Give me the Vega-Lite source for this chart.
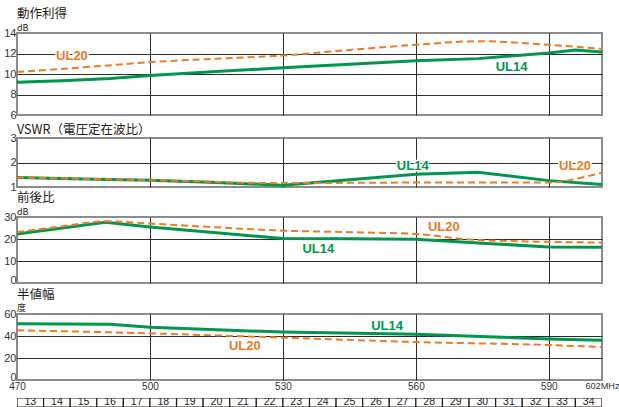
{
  "$schema": "https://vega.github.io/schema/vega-lite/v6.json",
  "padding": {"left": 2, "top": 0, "right": 0, "bottom": 0},
  "autosize": {"type": "pad"},
  "background": "white",
  "bounds": "flush",
  "spacing": 0,
  "datasets": {
    "curves": [
      {"q": "gain", "model": "UL14", "f": 470, "v": 9.2},
      {"q": "gain", "model": "UL14", "f": 480, "v": 9.35},
      {"q": "gain", "model": "UL14", "f": 491, "v": 9.55},
      {"q": "gain", "model": "UL14", "f": 500, "v": 9.85},
      {"q": "gain", "model": "UL14", "f": 515, "v": 10.25},
      {"q": "gain", "model": "UL14", "f": 530, "v": 10.6},
      {"q": "gain", "model": "UL14", "f": 545, "v": 10.95},
      {"q": "gain", "model": "UL14", "f": 560, "v": 11.3},
      {"q": "gain", "model": "UL14", "f": 574, "v": 11.5},
      {"q": "gain", "model": "UL14", "f": 590, "v": 12.05},
      {"q": "gain", "model": "UL14", "f": 596, "v": 12.35},
      {"q": "gain", "model": "UL14", "f": 602, "v": 12.15},
      {"q": "gain", "model": "UL20", "f": 470, "v": 10.2},
      {"q": "gain", "model": "UL20", "f": 485, "v": 10.65},
      {"q": "gain", "model": "UL20", "f": 500, "v": 11.15},
      {"q": "gain", "model": "UL20", "f": 515, "v": 11.5},
      {"q": "gain", "model": "UL20", "f": 530, "v": 11.8},
      {"q": "gain", "model": "UL20", "f": 545, "v": 12.35},
      {"q": "gain", "model": "UL20", "f": 560, "v": 12.85},
      {"q": "gain", "model": "UL20", "f": 574, "v": 13.2},
      {"q": "gain", "model": "UL20", "f": 590, "v": 12.85},
      {"q": "gain", "model": "UL20", "f": 602, "v": 12.45},
      {"q": "vswr", "model": "UL14", "f": 470, "v": 1.39},
      {"q": "vswr", "model": "UL14", "f": 485, "v": 1.33},
      {"q": "vswr", "model": "UL14", "f": 500, "v": 1.28},
      {"q": "vswr", "model": "UL14", "f": 515, "v": 1.18},
      {"q": "vswr", "model": "UL14", "f": 530, "v": 1.07},
      {"q": "vswr", "model": "UL14", "f": 545, "v": 1.3},
      {"q": "vswr", "model": "UL14", "f": 560, "v": 1.52},
      {"q": "vswr", "model": "UL14", "f": 574, "v": 1.6},
      {"q": "vswr", "model": "UL14", "f": 590, "v": 1.26},
      {"q": "vswr", "model": "UL14", "f": 602, "v": 1.1},
      {"q": "vswr", "model": "UL20", "f": 470, "v": 1.39},
      {"q": "vswr", "model": "UL20", "f": 500, "v": 1.28},
      {"q": "vswr", "model": "UL20", "f": 530, "v": 1.16},
      {"q": "vswr", "model": "UL20", "f": 560, "v": 1.18},
      {"q": "vswr", "model": "UL20", "f": 590, "v": 1.18},
      {"q": "vswr", "model": "UL20", "f": 593, "v": 1.22},
      {"q": "vswr", "model": "UL20", "f": 597, "v": 1.37},
      {"q": "vswr", "model": "UL20", "f": 602, "v": 1.58},
      {"q": "fb", "model": "UL14", "f": 470, "v": 22.3},
      {"q": "fb", "model": "UL14", "f": 490, "v": 27.6},
      {"q": "fb", "model": "UL14", "f": 500, "v": 25.5},
      {"q": "fb", "model": "UL14", "f": 515, "v": 22.8},
      {"q": "fb", "model": "UL14", "f": 530, "v": 20.2},
      {"q": "fb", "model": "UL14", "f": 545, "v": 20.1},
      {"q": "fb", "model": "UL14", "f": 560, "v": 19.9},
      {"q": "fb", "model": "UL14", "f": 575, "v": 18.1},
      {"q": "fb", "model": "UL14", "f": 590, "v": 16.4},
      {"q": "fb", "model": "UL14", "f": 602, "v": 16.3},
      {"q": "fb", "model": "UL20", "f": 470, "v": 23.1},
      {"q": "fb", "model": "UL20", "f": 480, "v": 25.7},
      {"q": "fb", "model": "UL20", "f": 490, "v": 28.05},
      {"q": "fb", "model": "UL20", "f": 500, "v": 27.0},
      {"q": "fb", "model": "UL20", "f": 515, "v": 25.3},
      {"q": "fb", "model": "UL20", "f": 530, "v": 23.8},
      {"q": "fb", "model": "UL20", "f": 545, "v": 23.1},
      {"q": "fb", "model": "UL20", "f": 560, "v": 22.3},
      {"q": "fb", "model": "UL20", "f": 572, "v": 19.8},
      {"q": "fb", "model": "UL20", "f": 590, "v": 18.7},
      {"q": "fb", "model": "UL20", "f": 602, "v": 18.4},
      {"q": "bw", "model": "UL14", "f": 470, "v": 51.2},
      {"q": "bw", "model": "UL14", "f": 491, "v": 50.6},
      {"q": "bw", "model": "UL14", "f": 500, "v": 47.9},
      {"q": "bw", "model": "UL14", "f": 515, "v": 45.6},
      {"q": "bw", "model": "UL14", "f": 530, "v": 43.6},
      {"q": "bw", "model": "UL14", "f": 560, "v": 41.5},
      {"q": "bw", "model": "UL14", "f": 590, "v": 37.3},
      {"q": "bw", "model": "UL14", "f": 602, "v": 36.1},
      {"q": "bw", "model": "UL20", "f": 470, "v": 45.2},
      {"q": "bw", "model": "UL20", "f": 500, "v": 42.4},
      {"q": "bw", "model": "UL20", "f": 530, "v": 38.5},
      {"q": "bw", "model": "UL20", "f": 560, "v": 34.5},
      {"q": "bw", "model": "UL20", "f": 590, "v": 31.8},
      {"q": "bw", "model": "UL20", "f": 602, "v": 30.0}
    ],
    "labels": [
      {"q": "gain", "model": "UL20", "f": 482.4, "v": 11.74},
      {"q": "gain", "model": "UL14", "f": 581.6, "v": 10.7},
      {"q": "vswr", "model": "UL14", "f": 559.3, "v": 1.86},
      {"q": "vswr", "model": "UL20", "f": 595.9, "v": 1.86},
      {"q": "fb", "model": "UL14", "f": 538, "v": 15.5},
      {"q": "fb", "model": "UL20", "f": 566.3, "v": 25.3},
      {"q": "bw", "model": "UL20", "f": 521.4, "v": 31.2},
      {"q": "bw", "model": "UL14", "f": 553.5, "v": 49.4}
    ],
    "channels": [
      {"ch": 13}, {"ch": 14}, {"ch": 15}, {"ch": 16}, {"ch": 17}, {"ch": 18},
      {"ch": 19}, {"ch": 20}, {"ch": 21}, {"ch": 22}, {"ch": 23}, {"ch": 24},
      {"ch": 25}, {"ch": 26}, {"ch": 27}, {"ch": 28}, {"ch": 29}, {"ch": 30},
      {"ch": 31}, {"ch": 32}, {"ch": 33}, {"ch": 34}
    ]
  },
  "vconcat": [
    {"width": 585, "height": 33, "view": {"stroke": null}, "data": {"values": [{}]}, "mark": {"type": "text", "text": ""}},
    {
      "width": 585, "height": 82,
      "title": {"text": "動作利得", "subtitle": "dB", "offset": -5.5},
      "encoding": {
        "x": {"field": "f", "type": "quantitative", "scale": {"domain": [470, 602], "nice": false, "zero": false},
              "axis": {"values": [500, 530, 560, 590], "tickCount": 20, "labels": false, "title": null, "grid": true}},
        "y": {"field": "v", "type": "quantitative", "scale": {"domain": [6, 14], "nice": false, "zero": false},
              "axis": {"values": [6, 8, 10, 12, 14], "tickCount": 20, "labelExpr": "'' + datum.value", "labelOverlap": false, "title": null, "grid": true,
                       "gridOpacity": {"condition": {"test": "datum.value == 6 || datum.value == 14", "value": 0}, "value": 1}}}
      },
      "layer": [
        {"data": {"name": "curves"}, "transform": [{"filter": "datum.q == 'gain' && datum.model == 'UL14'"}],
         "mark": {"type": "line", "color": "#00964b", "strokeWidth": 3}},
        {"data": {"name": "curves"}, "transform": [{"filter": "datum.q == 'gain' && datum.model == 'UL20'"}],
         "mark": {"type": "line", "color": "#ef7a1f", "strokeWidth": 2, "strokeDash": [7, 4], "interpolate": "monotone"}},
        {"data": {"name": "labels"}, "transform": [{"filter": "datum.q == 'gain'"}],
         "mark": {"type": "text", "stroke": "white", "strokeWidth": 3, "fontWeight": "bold", "fontSize": 13, "baseline": "middle"},
         "encoding": {"text": {"field": "model"}}},
        {"data": {"name": "labels"}, "transform": [{"filter": "datum.q == 'gain'"}],
         "mark": {"type": "text", "fontWeight": "bold", "fontSize": 13, "baseline": "middle"},
         "encoding": {"text": {"field": "model"},
                      "color": {"field": "model", "type": "nominal", "scale": {"domain": ["UL14", "UL20"], "range": ["#00964b", "#ef7a1f"]}, "legend": null}}}
      ]
    },
    {"width": 585, "height": 23, "view": {"stroke": null}, "data": {"values": [{}]}, "mark": {"type": "text", "text": ""}},
    {
      "width": 585, "height": 49,
      "title": {"text": "VSWR（電圧定在波比）", "offset": -4},
      "encoding": {
        "x": {"field": "f", "type": "quantitative", "scale": {"domain": [470, 602], "nice": false, "zero": false},
              "axis": {"values": [500, 530, 560, 590], "tickCount": 20, "labels": false, "title": null, "grid": true}},
        "y": {"field": "v", "type": "quantitative", "scale": {"domain": [1, 3], "nice": false, "zero": false},
              "axis": {"values": [1, 2, 3], "tickCount": 20, "labelExpr": "'' + datum.value", "labelOverlap": false, "title": null, "grid": true,
                       "gridOpacity": {"condition": {"test": "datum.value == 1 || datum.value == 3", "value": 0}, "value": 1}}}
      },
      "layer": [
        {"data": {"name": "curves"}, "transform": [{"filter": "datum.q == 'vswr' && datum.model == 'UL14'"}],
         "mark": {"type": "line", "color": "#00964b", "strokeWidth": 3}},
        {"data": {"name": "curves"}, "transform": [{"filter": "datum.q == 'vswr' && datum.model == 'UL20'"}],
         "mark": {"type": "line", "color": "#ef7a1f", "strokeWidth": 2, "strokeDash": [7, 4], "interpolate": "monotone"}},
        {"data": {"name": "labels"}, "transform": [{"filter": "datum.q == 'vswr'"}],
         "mark": {"type": "text", "stroke": "white", "strokeWidth": 3, "fontWeight": "bold", "fontSize": 13, "baseline": "middle"},
         "encoding": {"text": {"field": "model"}}},
        {"data": {"name": "labels"}, "transform": [{"filter": "datum.q == 'vswr'"}],
         "mark": {"type": "text", "fontWeight": "bold", "fontSize": 13, "baseline": "middle"},
         "encoding": {"text": {"field": "model"},
                      "color": {"field": "model", "type": "nominal", "scale": {"domain": ["UL14", "UL20"], "range": ["#00964b", "#ef7a1f"]}, "legend": null}}}
      ]
    },
    {"width": 585, "height": 30, "view": {"stroke": null}, "data": {"values": [{}]}, "mark": {"type": "text", "text": ""}},
    {
      "width": 585, "height": 66,
      "title": {"text": "前後比", "subtitle": "dB", "offset": -5.5},
      "encoding": {
        "x": {"field": "f", "type": "quantitative", "scale": {"domain": [470, 602], "nice": false, "zero": false},
              "axis": {"values": [500, 530, 560, 590], "tickCount": 20, "labels": false, "title": null, "grid": true}},
        "y": {"field": "v", "type": "quantitative", "scale": {"domain": [0, 30], "nice": false},
              "axis": {"values": [0, 10, 20, 30], "tickCount": 20, "labelExpr": "'' + datum.value", "labelOverlap": false, "title": null, "grid": true,
                       "labelBaseline": {"condition": {"test": "datum.value == 0", "value": "alphabetic"}, "value": "middle"},
                       "gridOpacity": {"condition": {"test": "datum.value == 0 || datum.value == 30", "value": 0}, "value": 1}}}
      },
      "layer": [
        {"data": {"name": "curves"}, "transform": [{"filter": "datum.q == 'fb' && datum.model == 'UL14'"}],
         "mark": {"type": "line", "color": "#00964b", "strokeWidth": 3}},
        {"data": {"name": "curves"}, "transform": [{"filter": "datum.q == 'fb' && datum.model == 'UL20'"}],
         "mark": {"type": "line", "color": "#ef7a1f", "strokeWidth": 2, "strokeDash": [7, 4], "interpolate": "monotone"}},
        {"data": {"name": "labels"}, "transform": [{"filter": "datum.q == 'fb'"}],
         "mark": {"type": "text", "stroke": "white", "strokeWidth": 3, "fontWeight": "bold", "fontSize": 13, "baseline": "middle"},
         "encoding": {"text": {"field": "model"}}},
        {"data": {"name": "labels"}, "transform": [{"filter": "datum.q == 'fb'"}],
         "mark": {"type": "text", "fontWeight": "bold", "fontSize": 13, "baseline": "middle"},
         "encoding": {"text": {"field": "model"},
                      "color": {"field": "model", "type": "nominal", "scale": {"domain": ["UL14", "UL20"], "range": ["#00964b", "#ef7a1f"]}, "legend": null}}}
      ]
    },
    {"width": 585, "height": 31, "view": {"stroke": null}, "data": {"values": [{}]}, "mark": {"type": "text", "text": ""}},
    {
      "width": 585, "height": 66,
      "title": {"text": "半値幅", "subtitle": "度", "offset": -5},
      "encoding": {
        "x": {"field": "f", "type": "quantitative", "scale": {"domain": [470, 602], "nice": false, "zero": false},
              "axis": {"values": [470, 500, 530, 560, 590, 602], "tickCount": 20, "labels": true, "labelFlush": false, "labelOverlap": false,
                       "labelExpr": "datum.value == 602 ? '602MHz' : datum.label",
                       "title": null, "grid": true, "labelPadding": 1.5,
                       "labelFontSize": {"condition": {"test": "datum.value == 602", "value": 9.2}, "value": 10},
                       "gridOpacity": {"condition": {"test": "datum.value == 470 || datum.value == 602", "value": 0}, "value": 1}}},
        "y": {"field": "v", "type": "quantitative", "scale": {"domain": [0, 60], "nice": false},
              "axis": {"values": [0, 20, 40, 60], "tickCount": 20, "labelExpr": "'' + datum.value", "labelOverlap": false, "title": null, "grid": true,
                       "labelBaseline": {"condition": {"test": "datum.value == 0", "value": "alphabetic"}, "value": "middle"},
                       "gridOpacity": {"condition": {"test": "datum.value == 0 || datum.value == 60", "value": 0}, "value": 1}}}
      },
      "layer": [
        {"data": {"name": "curves"}, "transform": [{"filter": "datum.q == 'bw' && datum.model == 'UL14'"}],
         "mark": {"type": "line", "color": "#00964b", "strokeWidth": 3}},
        {"data": {"name": "curves"}, "transform": [{"filter": "datum.q == 'bw' && datum.model == 'UL20'"}],
         "mark": {"type": "line", "color": "#ef7a1f", "strokeWidth": 2, "strokeDash": [7, 4], "interpolate": "monotone"}},
        {"data": {"name": "labels"}, "transform": [{"filter": "datum.q == 'bw'"}],
         "mark": {"type": "text", "stroke": "white", "strokeWidth": 3, "fontWeight": "bold", "fontSize": 13, "baseline": "middle"},
         "encoding": {"text": {"field": "model"}}},
        {"data": {"name": "labels"}, "transform": [{"filter": "datum.q == 'bw'"}],
         "mark": {"type": "text", "fontWeight": "bold", "fontSize": 13, "baseline": "middle"},
         "encoding": {"text": {"field": "model"},
                      "color": {"field": "model", "type": "nominal", "scale": {"domain": ["UL14", "UL20"], "range": ["#00964b", "#ef7a1f"]}, "legend": null}}}
      ]
    },
    {"width": 585, "height": 18, "view": {"stroke": null}, "data": {"values": [{}]}, "mark": {"type": "text", "text": ""}},
    {
      "width": 585, "height": 9,
      "view": {"stroke": null},
      "data": {"name": "channels"},
      "encoding": {"x": {"field": "ch", "type": "ordinal", "axis": null, "scale": {"paddingInner": 0, "paddingOuter": 0}}},
      "layer": [
        {"mark": {"type": "rect", "fill": "white", "stroke": "#231815", "strokeWidth": 1.2, "clip": true, "y2Offset": 4}},
        {"mark": {"type": "text", "fontSize": 10.5, "baseline": "alphabetic", "dy": 2.3, "color": "#231815", "clip": true},
         "encoding": {"text": {"field": "ch", "type": "nominal"}}}
      ]
    }
  ],
  "config": {
    "font": "Liberation Sans",
    "view": {"stroke": "#8c8c8c", "strokeWidth": 2},
    "axis": {"ticks": false, "domain": false, "labelFontSize": 11, "labelColor": "#333333", "labelPadding": 1, "labelOverlap": false, "gridColor": "#2b2b2b", "gridWidth": 1, "labelFont": "Liberation Sans"},
    "title": {"font": "Noto Sans CJK JP", "fontSize": 12.5, "fontWeight": "normal", "color": "#231815", "anchor": "start", "frame": "group", "offset": 2,
              "subtitleFont": "Noto Sans CJK JP", "subtitleFontSize": 9, "subtitleColor": "#231815", "subtitlePadding": 0}
  }
}
